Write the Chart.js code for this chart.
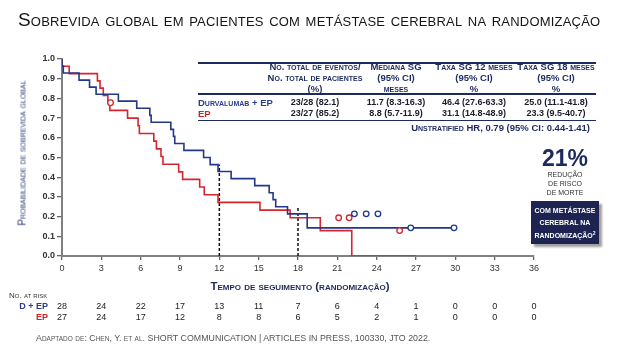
<!DOCTYPE html>
<html>
<head>
<meta charset="utf-8">
<script src="https://cdn.jsdelivr.net/npm/chart.js@4"></script>
<style>
  body { margin: 0; background: #fff; font-family: "Liberation Sans", Arial, sans-serif; }
  #wrap { position: relative; width: 620px; height: 351px; overflow: hidden; }
  #c { position: absolute; left: 0; top: 0; }
  .t { position: absolute; white-space: nowrap; }
  .sc { font-variant: small-caps; }
  .cc { transform: translateX(-50%); text-align: center; }
  .title { left: 18px; top: 9px; font-size: 19px; color: #151515; font-variant: small-caps; letter-spacing: 0.2px; }
  .hdr { top: 61px; font-size: 9.5px; line-height: 11.2px; font-weight: bold; color: #1c2a5e; font-variant: small-caps; }
  .row { font-size: 9px; line-height: 11px; font-weight: bold; color: #1b1c2c; }
  .rule { position: absolute; left: 198px; width: 398px; background: #1c2a5e; }
  .risk { font-size: 9px; line-height: 11px; color: #222; }
</style>
</head>
<body>
<div id="wrap">
  <canvas id="c" width="620" height="351"></canvas>

  <div class="t title">Sobrevida global em pacientes com metástase cerebral na randomização</div>

  <!-- table -->
  <div class="rule" style="top:62px;height:2px"></div>
  <div class="t hdr cc" style="left:315px">No. total de eventos/<br>No. total de pacientes<br>(%)</div>
  <div class="t hdr cc" style="left:396px">Mediana SG<br>(95% CI)<br>meses</div>
  <div class="t hdr cc" style="left:474px">Taxa SG 12 meses<br>(95% CI)<br>%</div>
  <div class="t hdr cc" style="left:556px">Taxa SG 18 meses<br>(95% CI)<br>%</div>
  <div class="rule" style="top:93px;height:1.5px"></div>
  <div class="t row sc" style="left:198px;top:97px;color:#2b3d8f;font-size:9.5px">Durvalumab + EP</div>
  <div class="t row sc" style="left:198px;top:108px;color:#d2232a;font-size:9.5px">EP</div>
  <div class="t row cc" style="left:315px;top:97px">23/28 (82.1)</div>
  <div class="t row cc" style="left:396px;top:97px">11.7 (8.3-16.3)</div>
  <div class="t row cc" style="left:474px;top:97px">46.4 (27.6-63.3)</div>
  <div class="t row cc" style="left:556px;top:97px">25.0 (11.1-41.8)</div>
  <div class="t row cc" style="left:315px;top:108px">23/27 (85.2)</div>
  <div class="t row cc" style="left:396px;top:108px">8.8 (5.7-11.9)</div>
  <div class="t row cc" style="left:474px;top:108px">31.1 (14.8-48.9)</div>
  <div class="t row cc" style="left:556px;top:108px">23.3 (9.5-40.7)</div>
  <div class="rule" style="top:119.5px;height:1.5px"></div>
  <div class="t row sc" style="right:30px;top:122px;color:#1c2a5e;font-size:9.5px">Unstratified HR, 0.79 (95% CI: 0.44-1.41)</div>

  <!-- callout -->
  <div class="t cc" style="left:565px;top:145px;font-size:23px;font-weight:bold;color:#1c2a5e">21%</div>
  <div class="t cc" style="left:565px;top:170px;font-size:7px;line-height:9.2px;color:#333">REDUÇÃO<br>DE RISCO<br>DE MORTE</div>
  <div class="t" style="left:531px;top:201px;width:68px;height:43px;background:#1d2452;box-shadow:3px 3px 2px #a0a0a0;color:#fff;font-size:7px;font-weight:bold;line-height:11.7px;text-align:center;padding-top:4px;box-sizing:border-box">COM METÁSTASE<br>CEREBRAL NA<br>RANDOMIZAÇÃO<sup style="font-size:5px">2</sup></div>

  <!-- axis titles -->
  <div class="t sc" style="left:22px;top:153px;transform:translate(-50%,-50%) rotate(-90deg);font-size:10px;color:#2b3a78">Probabilidade de sobrevida global</div>
  <div class="t sc" style="left:300px;top:280px;transform:translateX(-50%);font-size:11.5px;font-weight:bold;color:#1c2a5e">Tempo de seguimento (randomização)</div>

  <!-- at risk -->
  <div class="t sc" style="left:9px;top:291px;font-size:8px;color:#333">No. at risk</div>
  <div class="t risk" style="right:572px;top:300.5px;font-weight:bold;color:#2b3d8f">D + EP</div>
  <div class="t risk" style="right:572px;top:311.5px;font-weight:bold;color:#d2232a">EP</div>
  <div id="riskRows"></div>

  <div class="t" style="left:36px;top:332px;font-size:9.5px;color:#555;transform:scaleX(0.93);transform-origin:0 0"><span class="sc">Adaptado de: Chen, Y. et al.</span> SHORT COMMUNICATION | ARTICLES IN PRESS, 100330, JTO 2022.</div>
</div>

<script>
// Kaplan-Meier steps (months, survival after the event)
const timesD = [0, 0.1, 1.3, 2.1, 2.6, 4.3, 5.7, 6.7, 6.8, 8.3, 8.5, 8.6, 9.3, 10.8, 11.3, 11.9, 12.9, 14.7, 15.8, 16.1, 16.3, 17.2, 18.7, 25.2, 30];
const survD  = [1.0, 0.964, 0.929, 0.893, 0.857, 0.821, 0.786, 0.750, 0.714, 0.679, 0.643, 0.607, 0.571, 0.536, 0.500, 0.464, 0.429, 0.393, 0.357, 0.321, 0.286, 0.250, 0.214, 0.143, 0.143];

const timesEP = [0, 0.55, 2.7, 2.9, 3.15, 3.5, 3.65, 5.0, 5.8, 5.9, 7.0, 7.2, 7.55, 7.7, 8.9, 9.2, 10.5, 10.85, 11.9, 15.1, 17.4, 19.7, 22.1, 27.0];
const survEP  = [1.0, 0.963, 0.926, 0.889, 0.852, 0.815, 0.778, 0.739, 0.700, 0.661, 0.622, 0.583, 0.544, 0.505, 0.466, 0.427, 0.389, 0.350, 0.311, 0.272, 0.233, 0.194, 0.129, 0];

// censored patients (open circles)
const censorTimesD = [22.3, 23.2, 24.1, 26.6, 29.9];
const censorSurvD  = [0.214, 0.214, 0.214, 0.143, 0.143];
const censorTimesEP = [3.7, 21.1, 21.9, 25.75];
const censorSurvEP  = [0.778, 0.194, 0.194, 0.129];

// dashed reference lines at 12 and 18 months
const refTimes = [12, 18];
const refLevels = [0.464, 0.25];

// numbers at risk
const riskTimes = [0, 3, 6, 9, 12, 15, 18, 21, 24, 27, 30, 33, 36];
const riskD  = [28, 24, 22, 17, 13, 11, 7, 6, 4, 1, 0, 0, 0];
const riskEP = [27, 24, 17, 12, 8, 8, 6, 5, 2, 1, 0, 0, 0];

const BLUE = '#22398a';
const RED = '#d3262e';

function pts(xs, ys) {
  return xs.map((x, i) => ({ x: x, y: ys[i] }));
}

const datasets = [
  { data: pts(censorTimesD, censorSurvD), showLine: false, pointRadius: 2.8, pointBorderWidth: 1.3,
    pointBorderColor: BLUE, pointBackgroundColor: '#fff' },
  { data: pts(censorTimesEP, censorSurvEP), showLine: false, pointRadius: 2.8, pointBorderWidth: 1.3,
    pointBorderColor: RED, pointBackgroundColor: '#fff' },
  { data: pts(timesD, survD), stepped: 'after', borderColor: BLUE, borderWidth: 1.6, pointRadius: 0 },
  { data: pts(timesEP, survEP), stepped: 'after', borderColor: RED, borderWidth: 1.6, pointRadius: 0 }
];
refTimes.forEach((t, i) => {
  datasets.push({ data: [{ x: t, y: 0 }, { x: t, y: refLevels[i] }], borderColor: '#111',
    borderWidth: 1.5, borderDash: [3, 2], pointRadius: 0 });
});

const chart = new Chart(document.getElementById('c'), {
  type: 'line',
  data: { datasets: datasets },
  options: {
    responsive: false,
    animation: false,
    layout: { padding: { left: 0, top: 59, right: 86, bottom: 75 } },
    plugins: { legend: { display: false }, tooltip: { enabled: false } },
    scales: {
      x: {
        type: 'linear', min: 0, max: 36,
        afterFit: s => { s.height = 20; },
        ticks: { stepSize: 3, color: '#333', font: { size: 9, family: 'Liberation Sans' }, padding: 3, maxRotation: 0 },
        grid: { drawOnChartArea: false, color: '#666', tickLength: 4, lineWidth: 1.3 },
        border: { color: '#808080', width: 2 }
      },
      y: {
        min: 0, max: 1,
        afterFit: s => { s.width = 62; },
        ticks: { stepSize: 0.1, color: '#333', font: { size: 9, weight: 'bold', family: 'Liberation Sans' },
          padding: 2, callback: v => v.toFixed(1) },
        grid: { drawOnChartArea: false, color: '#666', tickLength: 5, lineWidth: 1.3 },
        border: { color: '#808080', width: 2 }
      }
    }
  }
});

// place numbers at risk under each tick
const rows = document.getElementById('riskRows');
riskTimes.forEach((t, i) => {
  const x = chart.scales.x.getPixelForValue(t);
  [[riskD[i], 300.5], [riskEP[i], 311.5]].forEach(([n, top]) => {
    const d = document.createElement('div');
    d.className = 't risk cc';
    d.style.left = x + 'px';
    d.style.top = top + 'px';
    d.textContent = n;
    rows.appendChild(d);
  });
});
</script>
</body>
</html>
